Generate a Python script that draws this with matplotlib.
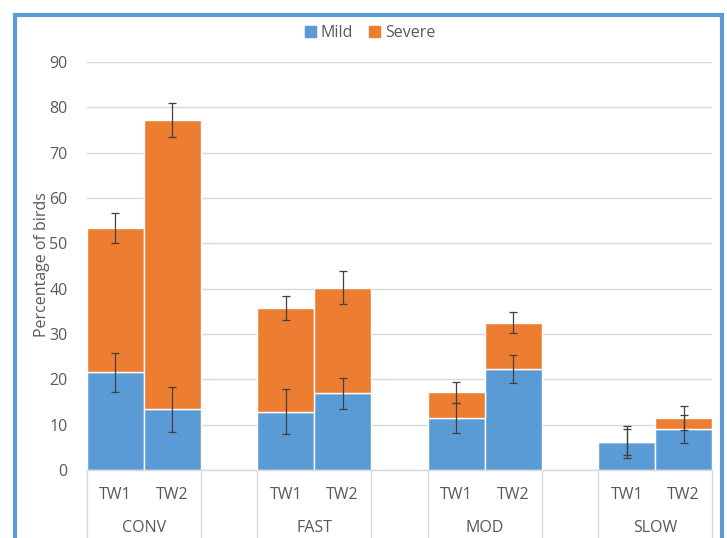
import matplotlib
matplotlib.use("Agg")
import matplotlib.pyplot as plt
from matplotlib.patches import Rectangle
from matplotlib.transforms import blended_transform_factory
import numpy as np

plt.rcParams['font.family'] = ['Open Sans', 'DejaVu Sans']

groups = ["CONV", "FAST", "MOD", "SLOW"]
periods = ["TW1", "TW2"]
mild = [21.6, 13.4, 12.9, 16.9, 11.4, 22.2, 6.2, 9.0]
severe = [31.8, 63.8, 22.8, 23.3, 5.7, 10.3, 0.0, 2.5]
mild_err = [4.3, 5.0, 5.0, 3.4, 3.3, 3.1, 2.9, 3.1]
severe_err = [3.3, 3.75, 2.7, 3.6, 2.4, 2.35, 3.5, 2.6]
yticks = [0, 10, 20, 30, 40, 50, 60, 70, 80, 90]

BLUE = "#5B9BD5"
ORANGE = "#ED7D31"
GRAY_TXT = "#595959"
GRID = "#D9D9D9"

fig = plt.figure(figsize=(7.27, 5.38), dpi=100)
ax = fig.add_axes([87/727, 1-470/538, (712-87)/727, (470-62)/538])

# slots: each group has 2 bars and one blank slot between groups
slots = []
for g in range(len(groups)):
    slots += [g*3, g*3+1]
slots = np.array(slots)
mild_a = np.array(mild)
sev_a = np.array(severe)
total = mild_a + sev_a

ax.bar(slots, mild_a, width=1.0, color=BLUE, edgecolor="white", linewidth=1, zorder=2)
ax.bar(slots, sev_a, bottom=mild_a, width=1.0, color=ORANGE, edgecolor="white", linewidth=1, zorder=2)
ax.errorbar(slots, mild_a, yerr=mild_err, fmt="none", ecolor="#404040", elinewidth=0.9, capsize=3, capthick=0.9, zorder=3)
ax.errorbar(slots, total, yerr=severe_err, fmt="none", ecolor="#404040", elinewidth=0.9, capsize=3, capthick=0.9, zorder=3)

ax.set_xlim(-0.5, 10.5)
ax.set_ylim(0, 90)
ax.set_yticks(yticks)
ax.yaxis.grid(True, color=GRID, linewidth=1, zorder=0)
ax.set_axisbelow(True)
for s in ["top", "right", "left"]:
    ax.spines[s].set_visible(False)
ax.spines["bottom"].set_color(GRID)
ax.spines["bottom"].set_linewidth(1)
ax.tick_params(axis="y", length=0, pad=14, labelsize=11.5, labelcolor=GRAY_TXT)
ax.set_xticks(slots)
ax.set_xticklabels(periods * len(groups))
ax.tick_params(axis="x", length=0, pad=12, labelsize=11.5, labelcolor=GRAY_TXT)

trans = blended_transform_factory(ax.transData, ax.transAxes)
for g, name in enumerate(groups):
    ax.text(g*3 + 0.5, -0.143, name, transform=trans, ha="center", va="center",
            fontsize=11.5, color=GRAY_TXT)
seps = [-0.5, 1.5, 2.5, 4.5, 5.5, 7.5, 8.5, 10.5]
for x in seps:
    ax.plot([x, x], [0, -0.2], transform=trans, color=GRID, linewidth=1, clip_on=False)

fig.text(42/727, 1-265/538, "Percentage of birds", rotation=90, ha="center", va="center",
         fontsize=11.5, color=GRAY_TXT)

handles = [Rectangle((0, 0), 1, 1, color=BLUE), Rectangle((0, 0), 1, 1, color=ORANGE)]
fig.legend(handles, ["Mild", "Severe"], loc="center", bbox_to_anchor=(370/727, 1-33/538),
           ncol=2, frameon=False, fontsize=11.5, labelcolor=GRAY_TXT,
           handlelength=0.7, handleheight=0.7, handletextpad=0.3, columnspacing=1.0)

border = Rectangle((15/727, -0.05), (722-15)/727, (1-15/538) + 0.05, transform=fig.transFigure,
                   fill=False, edgecolor=BLUE, linewidth=3, clip_on=False)
fig.patches.append(border)

fig.savefig("out.png", dpi=100)
